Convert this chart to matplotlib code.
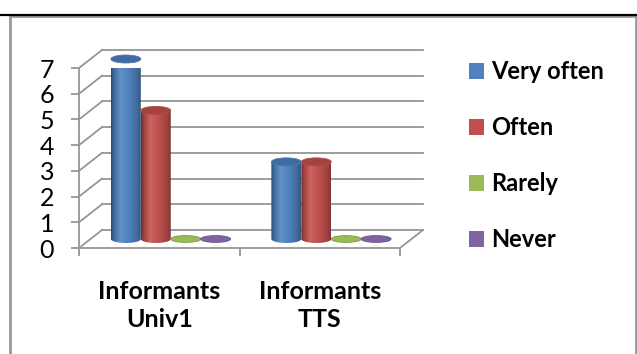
import numpy as np
import matplotlib
matplotlib.use('Agg')
import matplotlib.pyplot as plt
from matplotlib.patches import Ellipse, PathPatch, Patch, Rectangle
from matplotlib.path import Path
from matplotlib.lines import Line2D

plt.rcParams['font.family'] = ['Lato', 'DejaVu Sans']

# --- Data ---
categories = ["Informants\nUniv1", "Informants\nTTS"]
series     = ["Very often", "Often", "Rarely", "Never"]
very_often = [7, 3]
often      = [5, 3]
rarely     = [0, 0]
never      = [0, 0]
y_ticks    = [0, 1, 2, 3, 4, 5, 6, 7]

values = [very_often, often, rarely, never]
colors = ["#4F81BD", "#C0504D", "#9BBB59", "#8064A2"]

W, H = 637, 354
fig = plt.figure(figsize=(W / 100, H / 100), dpi=100)

# front plane of the 3d box (pixels -> figure fraction)
x0_px, x1_px, y0_px, y1_px = 79, 400, 248, 68
ax = fig.add_axes([x0_px / W, 1 - y0_px / H, (x1_px - x0_px) / W, (y0_px - y1_px) / H])
ax.set_xlim(0, 2)
ax.set_ylim(0, 7)

px_x = (x1_px - x0_px) / 2.0     # pixels per category unit
px_y = (y0_px - y1_px) / 7.0     # pixels per value unit
DX, DY = 23 / px_x, 18 / px_y    # depth offset of back wall, in data units
MX, MY = DX / 2, DY / 2          # cylinders sit half way back

grid_c = "#959595"
grid_lw = 1.3

# back wall gridlines + left side wall diagonals
for v in y_ticks:
    ax.plot([DX, 2 + DX], [v + DY, v + DY], color=grid_c, lw=grid_lw, clip_on=False, zorder=1)
    ax.plot([0, DX], [v, v + DY], color=grid_c, lw=grid_lw, clip_on=False, zorder=1)
# floor right edge
ax.plot([2, 2 + DX], [0, DY], color=grid_c, lw=grid_lw, clip_on=False, zorder=1)


def shade(rgb, f):
    rgb = np.asarray(rgb)
    if f < 1:
        return rgb * f
    return rgb + (1 - rgb) * (f - 1)


prof_t = [0.0, 0.08, 0.3, 0.55, 0.85, 1.0]
prof_f = [0.55, 0.8, 1.12, 1.02, 0.85, 0.68]

bar_w = 0.1865
ell_h = 8 / px_y
n_s = len(series)
theta = np.linspace(np.pi, 2 * np.pi, 40)

for i, (vals, col) in enumerate(zip(values, colors)):
    base = np.array(matplotlib.colors.to_rgb(col))
    for j, v in enumerate(vals):
        cx = j + 0.5 + (i - (n_s - 1) / 2) * bar_w + MX
        left, right = cx - bar_w / 2, cx + bar_w / 2
        y_b, y_t = MY, v + MY
        if v > 0:
            # body outline: straight sides with a rounded bottom
            arc_x = cx + bar_w / 2 * np.cos(theta)
            arc_y = y_b + ell_h / 2 * np.sin(theta)
            verts = [(left, y_t)] + list(zip(arc_x, arc_y)) + [(right, y_t), (left, y_t)]
            codes = [Path.MOVETO] + [Path.LINETO] * (len(verts) - 2) + [Path.CLOSEPOLY]
            clip = PathPatch(Path(verts, codes), transform=ax.transData)
            t = np.linspace(0, 1, 60)
            f = np.interp(t, prof_t, prof_f)
            grad = np.array([shade(base, k) for k in f])[None, :, :]
            im = ax.imshow(grad, extent=[left, right, y_b - ell_h / 2, y_t],
                           aspect='auto', interpolation='bilinear', zorder=3)
            im.set_clip_path(clip)
            im.set_clip_box(None)
            top = Ellipse((cx, y_t), bar_w, ell_h, facecolor=shade(base, 0.84),
                          edgecolor=shade(base, 0.95), lw=0.6, clip_on=False, zorder=4)
            ax.add_patch(top)
        else:
            disc = Ellipse((cx, y_t), bar_w, ell_h * 0.85, facecolor=base,
                           edgecolor=shade(base, 0.8), lw=0.6, clip_on=False, zorder=4)
            ax.add_patch(disc)

ax.set_xlim(0, 2)
ax.set_ylim(0, 7)

# axes styling
for s in ["top", "right"]:
    ax.spines[s].set_visible(False)
for s in ["left", "bottom"]:
    ax.spines[s].set_color(grid_c)
    ax.spines[s].set_linewidth(grid_lw)
    ax.spines[s].set_zorder(2)

ax.set_yticks(y_ticks)
ax.tick_params(axis='y', direction='out', length=6, width=grid_lw, color=grid_c,
               pad=12, labelsize=18, labelcolor="black")

ax.set_xticks([0.5, 1.5])
ax.set_xticklabels(categories, fontweight='bold', linespacing=1.25)
ax.set_xticks([0, 1, 2], minor=True)
ax.tick_params(axis='x', which='major', length=0, pad=23, labelsize=18)
ax.tick_params(axis='x', which='minor', direction='out', length=6, width=grid_lw, color=grid_c)

# legend
handles = [Patch(facecolor=c, edgecolor='none') for c in colors]
fig.legend(handles, series, loc='upper left', bbox_to_anchor=(469 / W, 1 - 60 / H),
           frameon=False, prop={'weight': 'bold', 'size': 17},
           handlelength=0.65, handleheight=0.65, handletextpad=0.3,
           labelspacing=1.4, borderpad=0, borderaxespad=0)

# chart frame and the rule above it
fig.add_artist(Rectangle((10 / W, -0.05), 626 / W, 1.05 - 16 / H, transform=fig.transFigure,
                         fill=False, edgecolor="#999999", lw=2))
fig.add_artist(Line2D([0, 636 / W], [1 - 14.5 / H] * 2, transform=fig.transFigure,
                      color="black", lw=1.6))

fig.savefig("out.png", dpi=100)
